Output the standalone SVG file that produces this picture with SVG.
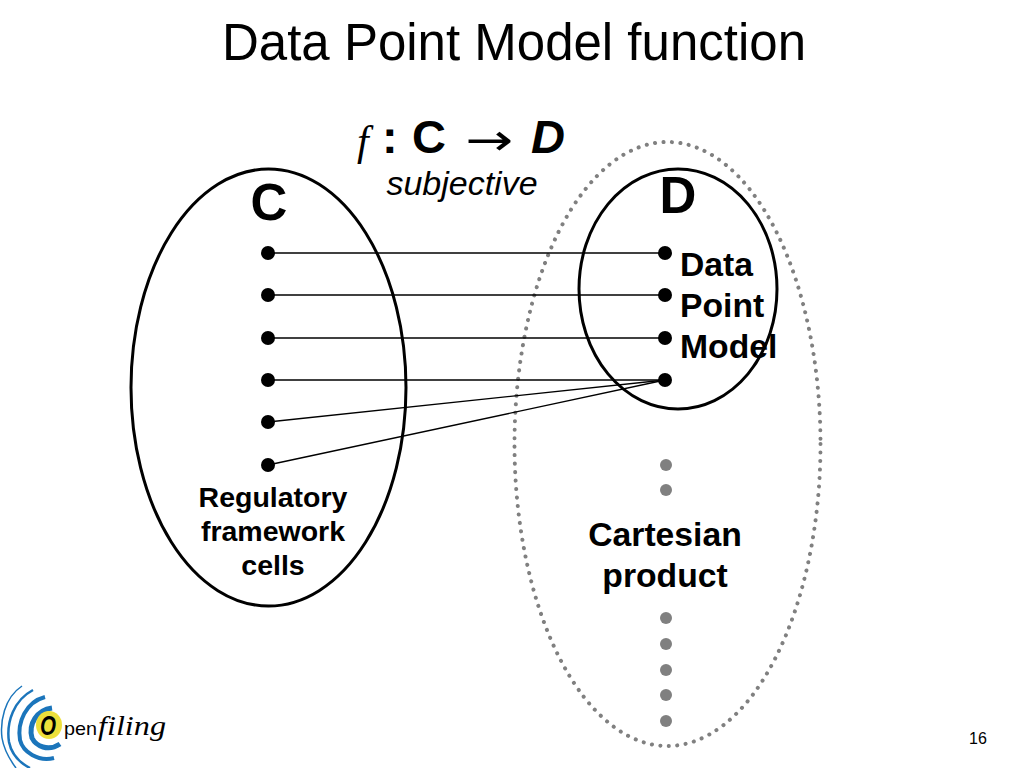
<svg xmlns="http://www.w3.org/2000/svg" width="1024" height="768" viewBox="0 0 1024 768">
<defs><style>
text{font-family:"Liberation Sans",Arial,sans-serif;fill:#000}
.b{font-weight:bold}
.m{text-anchor:middle}
.e{fill:none;stroke:#000;stroke-width:3}
.c line{stroke:#000;stroke-width:1.4}
.k{fill:#000}
.g{fill:#808080}
.a{fill:none;stroke:#1b75bb;stroke-linecap:butt}
</style></defs>
<rect width="1024" height="768" fill="#fff"/>
<text id="title" x="514" y="60" class="m" font-size="51">Data Point Model function</text>
<g id="formula">
<text x="357" y="155" font-size="42" style="font-family:'Liberation Serif',serif;font-style:italic">f</text>
<text x="382" y="153" font-size="47" class="b">:</text>
<text x="412" y="153" font-size="47" class="b">C</text>
<text x="465" y="155" font-size="44" style="font-family:'DejaVu Sans',sans-serif" textLength="48" lengthAdjust="spacingAndGlyphs">→</text>
<text x="531" y="153" font-size="47" class="b" font-style="italic">D</text>
<text x="462" y="195" class="m" font-size="34" font-style="italic">subjective</text>
</g>
<g id="node-cartesian">
<ellipse cx="667.500" cy="444" rx="153" ry="302" fill="none" stroke="#808080" stroke-width="4" stroke-linecap="round" stroke-dasharray="0.1 8.4"/>
<circle class="g" cx="666" cy="465" r="6"/><circle class="g" cx="666" cy="490" r="6"/>
<circle class="g" cx="666" cy="618" r="6"/><circle class="g" cx="666" cy="644" r="6"/><circle class="g" cx="666" cy="670" r="6"/><circle class="g" cx="666" cy="695" r="6"/><circle class="g" cx="666" cy="721" r="6"/>
<text x="665" y="546" class="b m" font-size="33.700">Cartesian</text>
<text x="665" y="587" class="b m" font-size="33.700">product</text>
</g>
<g id="node-c">
<ellipse class="e" cx="268.500" cy="387.500" rx="137.500" ry="218.500"/>
<text x="269" y="220" class="b m" font-size="51">C</text>
<circle class="k" cx="268" cy="253" r="7"/><circle class="k" cx="268" cy="295" r="7"/><circle class="k" cx="268" cy="338" r="7"/><circle class="k" cx="268" cy="380" r="7"/><circle class="k" cx="268" cy="422" r="7"/><circle class="k" cx="268" cy="465" r="7"/>
<text x="273" y="507" class="b m" font-size="28.500">Regulatory</text>
<text x="273" y="541" class="b m" font-size="28.500">framework</text>
<text x="273" y="575" class="b m" font-size="28.500">cells</text>
</g>
<g id="node-d">
<ellipse class="e" cx="678" cy="289" rx="99" ry="120"/>
<text x="678" y="213" class="b m" font-size="51">D</text>
<circle class="k" cx="665" cy="253" r="7"/><circle class="k" cx="665" cy="295" r="7"/><circle class="k" cx="665" cy="338" r="7"/><circle class="k" cx="665" cy="380" r="7"/>
<text x="680" y="276" class="b" font-size="33.700">Data</text>
<text x="680" y="317" class="b" font-size="33.700">Point</text>
<text x="680" y="358" class="b" font-size="33.700">Model</text>
</g>
<g id="connectors" class="c">
<line x1="268" y1="253" x2="665" y2="253"/>
<line x1="268" y1="295" x2="665" y2="295"/>
<line x1="268" y1="338" x2="665" y2="338"/>
<line x1="268" y1="380" x2="665" y2="380"/>
<line x1="268" y1="422" x2="665" y2="380"/>
<line x1="268" y1="465" x2="665" y2="380"/>
</g>
<g id="logo">
<path class="a" stroke-width="1.500" d="M22 686C4 698 0 722 2 738C4 750 10 760 16 768"/>
<path class="a" stroke-width="2.500" d="M33 690C14 700 6 722 9 742C11 752 18 762 30 768"/>
<path class="a" stroke-width="4" d="M45 697C26 702 17 722 20 740C23 752 38 762 54 758"/>
<path class="a" stroke-width="5" d="M52 708C37 710 28 724 32 738C36 746 48 752 60 744"/>
<ellipse cx="49" cy="725" rx="13" ry="14" fill="#eddf3b"/>
<text x="40" y="735" font-size="28" font-style="italic" class="b" textLength="16" lengthAdjust="spacingAndGlyphs">O</text>
<text x="64" y="735" font-size="19" fill="#333" textLength="33" lengthAdjust="spacingAndGlyphs">pen</text>
<text x="98" y="735" font-size="28" font-style="italic" style="font-family:'Liberation Serif',serif" textLength="68" lengthAdjust="spacingAndGlyphs">filing</text>
</g>
<text id="page" x="978" y="744" class="m" font-size="16">16</text>
</svg>
